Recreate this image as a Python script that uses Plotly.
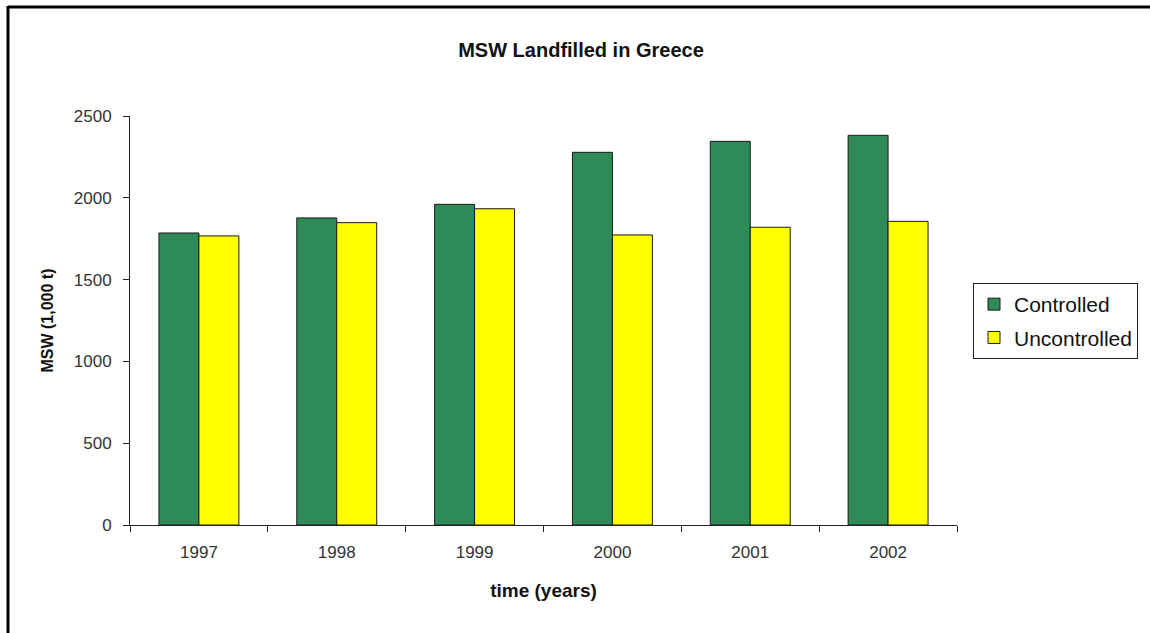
import plotly.graph_objects as go

years = ["1997", "1998", "1999", "2000", "2001", "2002"]
controlled = [1785, 1877, 1960, 2278, 2345, 2382]
uncontrolled = [1767, 1848, 1933, 1773, 1820, 1856]

FONT = "Arial, Liberation Sans, sans-serif"

# plot area in pixels: x 130..957, y 116..525
PW, PH = 827, 409

def px(x):
    return (x - 130) / PW

def py(y):
    return (525 - y) / PH

fig = go.Figure()
fig.add_trace(go.Bar(
    x=years, y=controlled, name="Controlled", legendgroup="c",
    marker=dict(color="#2e8b57", line=dict(color="#1a1a1a", width=1)),
))
fig.add_trace(go.Bar(
    x=years, y=uncontrolled, name="Uncontrolled", legendgroup="u",
    marker=dict(color="#ffff00", line=dict(color="#1a1a1a", width=1)),
))

fig.update_layout(
    width=1150, height=633,
    margin=dict(l=130, r=193, t=116, b=108),
    paper_bgcolor="white", plot_bgcolor="white",
    font=dict(family=FONT, color="#222"),
    barmode="group", bargap=0.42, bargroupgap=0,
    title=dict(text="<b>MSW Landfilled in Greece</b>", x=581 / 1150, xanchor="center",
               y=1 - 50 / 633, yanchor="middle", font=dict(size=20, color="#111")),
    legend=dict(x=px(973), xanchor="left", y=py(283), yanchor="top",
                bordercolor="#222", borderwidth=1, bgcolor="white",
                font=dict(size=21, color="#111"), tracegroupgap=3,
                itemwidth=30),
    xaxis=dict(
        showline=True, linecolor="#222", linewidth=1,
        ticks="outside", ticklen=6, tickcolor="#222", tickson="boundaries",
        ticklabelstandoff=12,
        tickfont=dict(size=17, color="#333"),
        title=dict(text="<b>time (years)</b>", font=dict(size=19, color="#111"), standoff=22),
        showgrid=False,
    ),
    yaxis=dict(
        range=[0, 2500], dtick=500,
        showline=True, linecolor="#222", linewidth=1,
        ticks="outside", ticklen=6, tickcolor="#222", ticklabelstandoff=8,
        tickfont=dict(size=17, color="#333"),
        title=dict(text="<b>MSW (1,000 t)</b>", font=dict(size=16, color="#111"), standoff=16),
        showgrid=False, zeroline=False,
    ),
    # frame drawn along the top and left edges of the figure
    shapes=[
        dict(type="line", xref="paper", yref="paper", layer="below",
             x0=px(8), x1=px(1150), y0=py(7), y1=py(7),
             line=dict(color="black", width=3)),
        dict(type="line", xref="paper", yref="paper", layer="below",
             x0=px(8), x1=px(8), y0=py(6), y1=py(633),
             line=dict(color="black", width=3)),
    ],
)

fig.write_html("out.html")
